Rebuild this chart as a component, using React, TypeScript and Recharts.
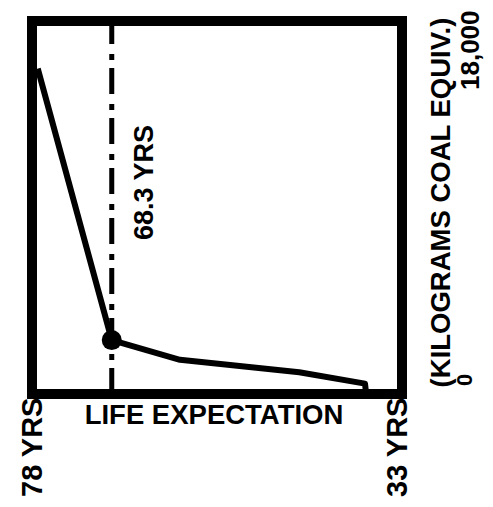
import React from 'react';
import { LineChart, Line, XAxis, YAxis, ReferenceLine, ReferenceArea, Label } from 'recharts';

// Life expectancy (years) vs energy use (kilograms coal equivalent)
const lifeExpectancy = [77.3, 68.3, 60.0, 45.5, 37.5, 37.4];
const energyUse = [15700, 2600, 1650, 1050, 500, 150];

const xTicks = [78, 33];
const xTickLabels: Record<number, string> = { 78: '78 YRS', 33: '33 YRS' };
const yTicks = [0, 18000];
const yTickLabels: Record<number, string> = { 0: '0', 18000: '18,000' };

const markerLife = 68.3;
const markerLabel = '68.3 YRS';
const xAxisTitle = 'LIFE EXPECTATION';
const yAxisTitle = '(KILOGRAMS COAL EQUIV.)';

const data = lifeExpectancy.map((life, i) => ({ life, energy: energyUse[i] }));

const FONT = '"Liberation Sans", Arial, Helvetica, sans-serif';
const INK = '#000';

const XTick = (props: any) => {
  const { x, y, payload } = props;
  const v = payload.value;
  const dx = v === 78 ? 10 : 5;
  return (
    <text
      transform={`translate(${x + dx},${y + 103}) rotate(-90)`}
      textAnchor="start"
      fontFamily={FONT}
      fontWeight="bold"
      fontSize={29}
      fill={INK}
    >
      {xTickLabels[v]}
    </text>
  );
};

const YTick = (props: any) => {
  const { x, y, payload } = props;
  const v = payload.value;
  if (v === 0) {
    return (
      <text
        transform={`translate(${x + 70},${y - 8}) rotate(-90)`}
        textAnchor="start"
        fontFamily={FONT}
        fontWeight="bold"
        fontSize={22}
        fill={INK}
      >
        {yTickLabels[v]}
      </text>
    );
  }
  return (
    <text
      transform={`translate(${x + 77},${y + 69}) rotate(-90)`}
      textAnchor="start"
      fontFamily={FONT}
      fontWeight="bold"
      fontSize={26}
      fill={INK}
    >
      {yTickLabels[v]}
    </text>
  );
};

const XTitle = (props: any) => {
  const vb = props.viewBox || {};
  return (
    <text
      x={vb.x + vb.width / 2 - 3}
      y={vb.y + 30}
      textAnchor="middle"
      fontFamily={FONT}
      fontWeight="bold"
      fontSize={27.5}
      fill={INK}
    >
      {xAxisTitle}
    </text>
  );
};

const YTitle = (props: any) => {
  const vb = props.viewBox || {};
  const cx = vb.x + 48;
  const cy = vb.y + vb.height / 2 - 5;
  return (
    <text
      transform={`translate(${cx},${cy}) rotate(-90)`}
      textAnchor="middle"
      fontFamily={FONT}
      fontWeight="bold"
      fontSize={27.5}
      fill={INK}
    >
      {yAxisTitle}
    </text>
  );
};

const MarkerTitle = (props: any) => {
  const vb = props.viewBox || {};
  const cx = vb.x + 41;
  const cy = vb.y + (vb.height || 0) / 2 - 25;
  return (
    <text
      transform={`translate(${cx},${cy}) rotate(-90)`}
      textAnchor="middle"
      fontFamily={FONT}
      fontWeight="bold"
      fontSize={27}
      fill={INK}
    >
      {markerLabel}
    </text>
  );
};

const MarkerDot = (props: any) => {
  const { cx, cy, payload, index } = props;
  if (payload && payload.life === markerLife) {
    return <circle key={`d-${index}`} cx={cx} cy={cy} r={10} fill={INK} />;
  }
  return <g key={`d-${index}`} />;
};

export default function App() {
  return (
    <LineChart
      width={477}
      height={491}
      data={data}
      margin={{ top: 13, left: 24, right: 0, bottom: 0 }}
      style={{ background: '#fff' }}
    >
      <XAxis
        dataKey="life"
        type="number"
        domain={[33, 78]}
        reversed
        ticks={xTicks}
        tick={<XTick />}
        axisLine={false}
        tickLine={false}
        tickSize={0}
        tickMargin={0}
        height={105}
        allowDataOverflow
        interval={0}
      >
        <Label content={<XTitle />} />
      </XAxis>
      <YAxis
        orientation="right"
        type="number"
        domain={[0, 18000]}
        ticks={yTicks}
        tick={<YTick />}
        axisLine={false}
        tickLine={false}
        tickSize={0}
        tickMargin={0}
        width={83}
        allowDataOverflow
        interval={0}
      >
        <Label content={<YTitle />} />
      </YAxis>
      <ReferenceLine
        x={markerLife}
        stroke={INK}
        strokeWidth={5}
        strokeDasharray="26 8 6 10"
      >
        <Label content={<MarkerTitle />} />
      </ReferenceLine>
      <Line
        type="linear"
        dataKey="energy"
        stroke={INK}
        strokeWidth={6}
        strokeLinejoin="round"
        dot={<MarkerDot />}
        activeDot={false}
        isAnimationActive={false}
      />
      <ReferenceArea
        x1={78}
        x2={33}
        y1={0}
        y2={18000}
        fill="none"
        stroke={INK}
        strokeWidth={10}
      />
    </LineChart>
  );
}
